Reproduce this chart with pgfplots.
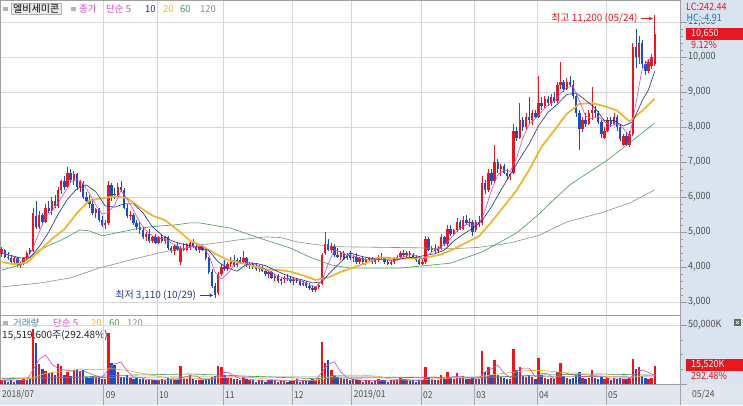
\documentclass[border=0pt]{standalone}
\usepackage{fontspec}
\setmainfont{Noto Sans CJK KR}
\newfontfamily\ui[FakeStretch=0.9]{Noto Sans CJK KR}
\usepackage{pgfplots}
\usepackage{pgfplotstable}
\pgfplotsset{compat=1.18}
\definecolor{cRed}{HTML}{E8161E}
\definecolor{cBlue}{HTML}{1C4DC6}
\definecolor{cMag}{HTML}{CF4AC4}
\definecolor{cNavy}{HTML}{1F2B8E}
\definecolor{cYel}{HTML}{F0B429}
\definecolor{cGrn}{HTML}{3E9B57}
\definecolor{cGry}{HTML}{8E8E8E}
\definecolor{cTeal}{HTML}{4E8C9A}
\definecolor{cLow}{HTML}{283C9C}
\definecolor{panel}{HTML}{DAE4F1}
\definecolor{strip}{HTML}{E2E7EE}
\definecolor{gridc}{HTML}{D6D6D6}
\definecolor{txtg}{HTML}{505050}

\pgfplotstableread{
i o h l c v
0 4380 4560 4300 4520 3
1 4500 4520 4250 4300 3
2 4300 4420 4200 4250 2
3 4250 4350 4100 4150 3
4 4150 4300 4080 4250 2
5 4250 4280 4000 4050 3
6 4050 4150 3960 4100 3
7 4100 4300 4050 4250 4
8 4250 4450 4200 4400 3
9 4480 4550 4380 4420 4
10 4450 5700 4430 5550 47
11 5450 5900 5100 5150 35
12 5150 5600 5100 5500 17
13 5500 5550 5200 5300 13
14 5300 5800 5250 5700 11
15 5700 5900 5550 5600 9
16 5600 6000 5500 5900 10
17 5900 6050 5700 5750 8
18 5750 6300 5700 6200 17
19 6200 6500 6100 6450 15
20 6450 6600 6200 6300 8
21 6300 6850 6250 6700 10
22 6700 6800 6400 6500 7
23 6500 6750 6350 6650 12
24 6650 6700 6200 6300 13
25 6300 6500 6150 6450 11
26 6400 6450 5950 6000 12
27 6000 6150 5800 5900 6
28 5900 6050 5700 5800 5
29 5800 5900 5500 5550 7
30 5550 5700 5400 5650 5
31 5650 5700 5300 5350 6
32 5350 5450 5150 5200 4
33 5200 5350 5100 5250 4
34 5250 6450 5200 6350 43
35 6350 6400 5900 6000 18
36 6100 6250 5950 6050 16
37 6050 6400 6000 6300 10
38 6300 6450 6150 6200 6
39 6200 6250 5650 5700 6
40 5700 5800 5400 5450 8
41 5450 5600 5350 5500 5
42 5500 5550 5200 5250 4
43 5250 5350 5050 5150 5
44 5150 5300 4950 5050 4
45 5050 5150 4800 4850 4
46 4850 5000 4750 4950 3
47 4950 5100 4700 4750 4
48 4750 4900 4700 4850 3
49 4850 4950 4650 4700 3
50 4700 4900 4650 4850 3
51 4850 4950 4700 4750 4
52 4750 4900 4650 4850 3
53 4850 4900 4500 4550 5
54 4550 4600 4400 4450 4
55 4450 4650 4350 4600 3
56 4600 4700 4450 4500 3
57 4150 4600 4050 4550 15
58 4550 4700 4450 4500 4
59 4500 4700 4450 4650 4
60 4550 4750 4500 4700 8
61 4700 4800 4550 4600 4
62 4600 4700 4450 4500 3
63 4500 4650 4400 4600 3
64 4600 4650 4450 4500 3
65 4500 4550 4200 4250 4
66 4250 4300 3800 3850 5
67 3850 3950 3400 3450 6
68 3450 3550 3110 3200 7
69 3250 3850 3200 3800 15
70 3800 4100 3750 4000 14
71 4000 4200 3900 3950 8
72 3950 4150 3900 4100 5
73 4100 4300 4000 4200 5
74 4200 4350 4000 4050 4
75 4050 4250 4000 4200 4
76 4200 4300 4100 4150 3
77 4150 4450 4100 4250 6
78 4250 4300 4000 4050 4
79 4050 4150 3950 4100 3
80 4100 4150 3950 4000 3
81 4000 4100 3900 3950 2
82 3950 4050 3850 4000 3
83 4000 4050 3850 3900 3
84 3900 3950 3750 3800 2
85 3800 3900 3700 3850 3
86 3850 3900 3650 3700 4
87 3700 3800 3600 3750 3
88 3750 3800 3550 3600 2
89 3600 3700 3500 3650 3
90 3650 3750 3550 3700 3
91 3700 3800 3600 3650 2
92 3650 3750 3550 3600 3
93 3600 3700 3500 3650 3
94 3650 3700 3550 3600 4
95 3600 3650 3450 3500 2
96 3500 3600 3450 3550 3
97 3550 3600 3400 3450 3
98 3450 3550 3350 3400 3
99 3400 3450 3280 3350 4
100 3350 3450 3300 3420 3
101 3420 3550 3380 3500 5
102 3520 4400 3500 4350 36
103 4400 5000 4350 4650 18
104 4650 4800 4450 4500 20
105 4500 4700 4400 4600 12
106 4600 4650 4300 4350 8
107 4350 4550 4250 4300 6
108 4300 4450 4200 4400 5
109 4400 4450 4200 4250 4
110 4250 4400 4200 4350 4
111 4350 4450 4200 4250 3
112 4250 4350 4150 4300 4
113 4300 4400 4100 4150 3
114 4150 4300 4100 4250 3
115 4250 4300 4100 4150 2
116 4150 4250 4050 4200 3
117 4200 4300 4150 4250 3
118 4250 4300 4100 4150 2
119 4150 4250 4100 4200 3
120 4200 4350 4150 4300 4
121 4300 4400 4200 4250 3
122 4250 4300 4100 4150 3
123 4150 4200 4050 4100 2
124 4100 4200 4050 4150 3
125 4150 4300 4100 4250 3
126 4250 4350 4200 4300 4
127 4300 4450 4250 4400 5
128 4400 4500 4300 4350 4
129 4350 4450 4250 4400 3
130 4400 4450 4300 4350 3
131 4350 4400 4250 4300 3
132 4300 4350 4150 4200 2
133 4200 4250 4050 4100 3
134 4100 4200 4050 4150 3
135 4150 4900 4100 4800 14
136 4800 4850 4450 4500 6
137 4500 4600 4400 4550 4
138 4550 4650 4400 4450 3
139 4450 4600 4400 4550 3
140 4550 4950 4500 4850 8
141 4850 4900 4600 4650 4
142 4650 5200 4600 5100 10
143 5100 5200 4900 4950 5
144 4950 5100 4900 5050 4
145 5050 5400 5000 5300 9
146 5300 5350 5050 5100 5
147 5100 5450 5050 5350 7
148 5350 5500 5200 5250 4
149 5250 5400 5150 5300 4
150 5300 5350 4900 5000 6
151 5050 5350 5000 5300 4
152 5300 5450 5150 5200 4
153 5250 6600 5200 6400 28
154 6400 6500 6100 6200 10
155 6200 6800 6150 6700 14
156 6700 6800 6350 6450 8
157 6450 7500 6400 7000 20
158 7000 7100 6700 6800 8
159 6800 6950 6600 6900 6
160 6900 6950 6650 6700 5
161 6700 6800 6500 6600 4
162 6600 6700 6500 6650 4
163 6700 8100 6650 7900 30
164 7900 8000 7600 7700 12
165 7700 8700 7650 8200 14
166 8200 8300 7900 8000 7
167 8000 8400 7950 8300 6
168 8300 8850 8100 8200 8
169 8200 8500 8050 8400 6
170 8400 8500 8250 8300 4
171 8300 9450 8250 8700 22
172 8700 8850 8500 8600 8
173 8600 8900 8550 8800 5
174 8800 8900 8600 8700 4
175 8700 8950 8600 8850 5
176 8850 9000 8700 8750 4
177 8750 9300 8700 9200 10
178 9200 9850 9100 9300 18
179 9300 9350 9000 9100 7
180 9100 9400 9050 9300 5
181 9300 9450 9150 9200 4
182 9200 9350 8800 8900 5
183 8900 8950 8300 8400 8
184 8400 8500 7350 7950 10
185 7950 8300 7850 8200 5
186 8200 8400 8000 8100 4
187 8100 8500 8050 8400 5
188 8400 9150 8200 8500 12
189 8500 8600 8300 8400 5
190 8400 8450 8100 8150 4
191 8150 8200 7700 7800 6
192 7700 8000 7650 7900 4
193 7900 8300 7850 8200 5
194 8200 8300 8000 8100 3
195 8100 8400 8050 8300 5
196 8300 8350 7900 8000 4
197 8000 8100 7600 7650 5
198 7500 7800 7450 7750 4
199 7750 7850 7450 7500 4
200 7500 7900 7430 7800 5
201 7800 10400 7750 10300 21
202 10300 10800 9700 10000 13
203 10000 10600 9800 10400 14
204 10400 10500 9700 9800 7
205 9800 9900 9500 9600 5
206 9600 9950 9550 9850 4
207 9750 10100 9650 10000 5
208 9800 11200 9750 10650 15.52
}\stock

\pgfplotsset{
  upc/.style={restrict expr to domain={\thisrow{c}-\thisrow{o}}{0:1000000}},
  dnc/.style={restrict expr to domain={\thisrow{c}-\thisrow{o}}{-1000000:-1}},
  wick/.style={draw=none, mark=none, forget plot, error bars/.cd, y dir=both, y explicit, error mark=none, error bar style={line width=0.75pt, draw=#1}},
  body/.style={draw=none, mark=none, forget plot, error bars/.cd, y dir=both, y explicit, error mark=none, error bar style={line width=2.4pt, draw=#1}},
  panelaxis/.style={scale only axis, width=680pt, xmin=-0.51, xmax=216.05,
    axis line style={draw=gray!75},
    scaled y ticks=false, scaled x ticks=false,
    xtick={32.5,49.5,70.5,92.5,111.5,133.5,150.5,170.5,192.5}, xticklabels={}, xtick style={draw=none},
    ytick pos=right, yticklabel pos=right, tick align=outside,
    major tick length=7pt, minor tick length=3pt,
    ytick style={draw=gray!80, line width=0.5pt},
    yticklabel style={font=\ui\fontsize{10}{10}\selectfont, text=txtg, inner sep=1pt},
    xmajorgrids, ymajorgrids, grid style={draw=gridc, line width=0.5pt},
    clip mode=individual},
}

\begin{document}
\begin{tikzpicture}
\useasboundingbox (0pt,0pt) rectangle (743pt,405pt);
\fill[white] (0pt,0pt) rectangle (743pt,405pt);
\fill[panel] (680pt,21pt) rectangle (743pt,405pt);
\fill[strip] (0pt,0pt) rectangle (743pt,21pt);
% date strip
\foreach \xx in {103.7,157.0,223.0,292.1,351.7,420.8,474.2,537.0,606.1,680.0}
  \draw[gray!70, line width=0.5pt] (\xx pt,0pt) -- (\xx pt,21pt);
\foreach \xx/\lab in {2/2018\slash 07,105.7/09,159/10,225/11,294/12,353.7/2019\slash 01,422.8/02,476.2/03,539/04,608/05,692/05\slash 24}
  \node[anchor=west, inner sep=0pt, text=txtg, font=\ui\fontsize{9.5}{10}\selectfont] at (\xx pt,10pt) {\lab};
% volume legend (under the bars)
\fill[gray!60] (3pt,80pt) rectangle ++(4.5pt,4.5pt);
\node[anchor=west, inner sep=0pt, text=cTeal, font=\fontsize{9.5}{10}\selectfont] at (13pt,82pt) {거래량};
\node[anchor=west, inner sep=0pt, text=cMag, font=\fontsize{9.5}{10}\selectfont] at (53pt,82pt) {단순 5};
\node[anchor=west, inner sep=0pt, text=cYel, font=\fontsize{9.5}{10}\selectfont] at (91pt,82pt) {20};
\node[anchor=west, inner sep=0pt, text=cGrn, font=\fontsize{9.5}{10}\selectfont] at (109pt,82pt) {60};
\node[anchor=west, inner sep=0pt, text=cGry, font=\fontsize{9.5}{10}\selectfont] at (127pt,82pt) {120};
\node[anchor=west, inner sep=0pt, text=black!85, font=\fontsize{10}{10}\selectfont] at (2pt,70pt) {15,519,600주(292.48\%)};

% ---------------- volume panel ----------------
\begin{axis}[panelaxis, at={(0pt,21pt)}, anchor=south west, height=69pt,
  ymin=0, ymax=58.47, ytick={0,50}, yticklabels={{},{50,000K}}, minor y tick num=3]
\addplot[upc, ycomb, draw=cRed, line width=2.4pt, mark=none, forget plot] table[x=i, y=v] {\stock};
\addplot[dnc, ycomb, draw=cBlue, line width=2.4pt, mark=none, forget plot] table[x=i, y=v] {\stock};
\addplot[cGry, line width=0.6pt, mark=none] coordinates {(0,5)(60,6)(100,6)(140,5.8)(180,6.2)(208,6.8)};
\addplot[cGrn, line width=0.6pt, mark=none] coordinates {(0,4.5)(20,5.5)(40,7.5)(60,8.5)(80,6.5)(100,4.5)(110,5)(130,5.5)(150,5)(170,7.5)(190,8.5)(208,7.5)};
\addplot[cYel, line width=0.7pt, mark=none] coordinates {(0,3.5)(10,5)(14,9)(20,11)(25,12.5)(30,12)(35,13)(40,11.5)(45,9)(50,6.5)(55,4.5)(60,5)(65,4.5)(70,5.5)(75,6)(80,5.5)(85,4)(90,3)(95,3)(100,3)(103,5)(106,7)(110,7.5)(115,7.5)(120,6.5)(124,4)(130,3.2)(135,3.8)(140,4.5)(145,5.5)(150,5.5)(153,6.5)(158,8.5)(163,10)(168,11.5)(172,11.5)(176,10.5)(180,9.5)(185,8.5)(190,7)(195,6)(200,5.5)(203,6.5)(208,7.5)};
\addplot[cMag, line width=0.6pt, mark=none] coordinates {(0,3)(4,2.6)(8,3)(10,12)(12,21)(14,24.6)(16,17)(18,13)(20,12)(22,11)(24,10)(26,11)(28,9)(30,7)(32,5.6)(34,12)(36,17)(38,18.6)(40,11)(42,6)(44,5.6)(46,4)(48,3.6)(50,3.2)(52,3.4)(54,3.8)(56,3.6)(58,5.8)(60,7)(62,6.8)(64,4)(66,3.6)(68,5)(70,9.4)(72,10)(74,7.2)(76,4.4)(78,4.4)(80,3.6)(84,2.6)(88,2.8)(92,2.6)(96,3)(100,3.2)(102,10)(104,16.8)(106,18.8)(108,10.2)(110,5.4)(112,4)(116,2.8)(120,3)(124,2.6)(128,4)(132,3)(134,3)(136,5.6)(138,5.8)(140,4.8)(142,5.6)(144,6.2)(146,6.6)(148,5.8)(150,5.2)(152,4.8)(154,10.4)(156,12.8)(158,16)(160,9.4)(162,5.4)(164,11.2)(166,13.4)(168,13.4)(170,6.2)(172,9.2)(174,8.6)(176,4.4)(178,7.6)(180,8.8)(182,7.8)(184,6.4)(186,6.4)(188,7.2)(190,6)(192,6)(194,4.4)(196,4.2)(198,4.2)(200,4.4)(202,9.4)(204,12)(206,9.8)(208,7.3)};
\end{axis}

% ---------------- price panel ----------------
\begin{axis}[panelaxis, at={(0pt,90pt)}, anchor=south west, height=315pt,
  ymin=2628.6, ymax=11628.6,
  ytick={3000,4000,...,11000},
  yticklabels={{3,000},{4,000},{5,000},{6,000},{7,000},{8,000},{9,000},{10,000},{11,000}},
  minor y tick num=4]
% candles
\addplot[upc, wick=cRed] table[x=i, y expr={(\thisrow{h}+\thisrow{l})/2}, y error expr={(\thisrow{h}-\thisrow{l})/2}] {\stock};
\addplot[dnc, wick=cBlue] table[x=i, y expr={(\thisrow{h}+\thisrow{l})/2}, y error expr={(\thisrow{h}-\thisrow{l})/2}] {\stock};
\addplot[upc, body=cRed] table[x=i, y expr={(\thisrow{o}+\thisrow{c})/2}, y error expr={abs(\thisrow{c}-\thisrow{o})/2}] {\stock};
\addplot[dnc, body=cBlue] table[x=i, y expr={(\thisrow{o}+\thisrow{c})/2}, y error expr={abs(\thisrow{c}-\thisrow{o})/2}] {\stock};
% moving averages
\addplot[cGry, line width=0.6pt, mark=none] coordinates {(0,3430)(12,3540)(22,3690)(31,3970)(41,4200)(50,4400)(55,4490)(64,4630)(75,4770)(84,4860)(89,4840)(94,4720)(100,4640)(107,4580)(114,4570)(132,4550)(143,4520)(152,4560)(162,4690)(171,4900)(180,5290)(191,5550)(200,5830)(208,6200)};
\addplot[cGrn, line width=0.6pt, mark=none] coordinates {(0,3910)(6,4060)(12,4490)(19,4770)(25,5060)(28,5030)(32,4890)(38,5000)(44,5110)(50,5170)(55,5200)(60,5260)(63,5260)(73,5110)(82,4830)(92,4540)(98,4290)(105,4060)(111,3970)(127,3970)(143,4110)(153,4430)(164,4970)(171,5500)(175,5850)(181,6350)(193,7060)(200,7550)(208,8110)};
\addplot[cYel, line width=1.7pt, mark=none] coordinates {(0,4140)(4,4080)(8,4120)(12,4450)(16,4800)(20,5079)(24,5539)(28,5906)(32,5963)(36,6020)(40,5968)(44,5708)(48,5470)(52,5340)(56,5063)(60,4750)(64,4600)(68,4380)(72,4200)(76,4120)(80,4030)(84,3930)(88,3920)(92,3870)(96,3760)(100,3630)(104,3700)(108,3859)(112,3986)(116,4109)(120,4273)(124,4255)(128,4238)(132,4243)(136,4283)(140,4358)(144,4513)(148,4698)(152,4875)(156,5285)(160,5735)(164,6190)(168,6775)(172,7435)(176,7903)(180,8378)(184,8658)(188,8683)(192,8595)(196,8470)(200,8160)(204,8463)(208,8808)};
\addplot[cNavy, line width=0.6pt, mark=none] coordinates {(0,4400)(3,4330)(6,4260)(9,4269)(12,4582)(15,4997)(18,5507)(21,5940)(24,6235)(27,6345)(30,6150)(33,5745)(36,5710)(39,5805)(42,5805)(45,5550)(48,5150)(51,4915)(54,4755)(57,4665)(60,4610)(63,4565)(66,4470)(69,4145)(72,3970)(75,3880)(78,4075)(81,4105)(84,4040)(87,3910)(90,3790)(93,3695)(96,3625)(99,3545)(102,3577)(105,3877)(108,4142)(111,4400)(114,4320)(117,4255)(120,4220)(123,4200)(126,4210)(129,4265)(132,4280)(135,4335)(138,4380)(141,4480)(144,4745)(147,4935)(150,5105)(153,5325)(156,5715)(159,6195)(162,6640)(165,7090)(168,7515)(171,8035)(174,8420)(177,8650)(180,8930)(183,8970)(186,8765)(189,8535)(192,8180)(195,8185)(198,8025)(201,8150)(204,8750)(206,9065)(208,9590)};
\addplot[cMag, line width=0.6pt, mark=none] coordinates {(0,4420)(2,4340)(4,4294)(6,4160)(8,4210)(10,4544)(12,5004)(14,5440)(16,5600)(18,5830)(20,6120)(22,6430)(24,6490)(26,6380)(28,6090)(30,5780)(32,5510)(34,5560)(36,5770)(38,6180)(40,5940)(42,5620)(44,5280)(46,5050)(48,4890)(50,4820)(52,4800)(54,4690)(56,4590)(58,4520)(60,4580)(62,4590)(64,4580)(66,4340)(68,3850)(70,3660)(72,3810)(74,4060)(76,4140)(78,4140)(80,4110)(82,4020)(84,3930)(86,3850)(88,3740)(90,3680)(92,3640)(94,3640)(96,3580)(98,3500)(100,3434)(102,3604)(104,4084)(106,4490)(108,4430)(110,4330)(112,4310)(114,4260)(116,4210)(118,4200)(120,4220)(122,4210)(124,4190)(126,4190)(128,4290)(130,4360)(132,4320)(134,4220)(136,4350)(138,4490)(140,4580)(142,4720)(144,4920)(146,5100)(148,5210)(150,5200)(152,5210)(154,5620)(156,6190)(158,6630)(160,6770)(162,6730)(164,7110)(166,7690)(168,8080)(170,8240)(172,8440)(174,8620)(176,8740)(178,8960)(180,9130)(182,9160)(184,8750)(186,8310)(188,8230)(190,8310)(192,8150)(194,8030)(196,8100)(198,7960)(200,7740)(201,8200)(202,8670)(204,9660)(206,9930)(208,9980)};
% annotations
\node[anchor=east, inner sep=0pt, text=cRed, font=\fontsize{10}{10}\selectfont] at (axis cs:202.6,11100) {최고 11,200 (05/24)};
\draw[cRed, line width=0.8pt, -stealth] (axis cs:203.6,11100) -- (axis cs:207.4,11100);
\node[anchor=east, inner sep=0pt, text=cLow, font=\fontsize{10}{10}\selectfont] at (axis cs:62.0,3190) {최저 3,110 (10/29)};
\draw[cLow, line width=0.8pt, -stealth] (axis cs:63.3,3190) -- (axis cs:67.4,3190);
\end{axis}

% price legend
\fill[gray!60] (3pt,393.5pt) rectangle ++(4.5pt,4.5pt);
\node[anchor=west, draw=gray!60, fill=gray!15, inner xsep=2pt, inner ysep=1pt, font=\fontsize{10}{10}\selectfont] at (11pt,396pt) {엘비세미콘};
\fill[gray!60] (71pt,393.5pt) rectangle ++(4.5pt,4.5pt);
\node[anchor=west, inner sep=0pt, text=cMag, font=\fontsize{9.5}{10}\selectfont] at (79pt,396pt) {종가};
\node[anchor=west, inner sep=0pt, text=cMag, font=\fontsize{9.5}{10}\selectfont] at (106pt,396pt) {단순 5};
\node[anchor=west, inner sep=0pt, text=cNavy, font=\fontsize{9.5}{10}\selectfont] at (145pt,396pt) {10};
\node[anchor=west, inner sep=0pt, text=cYel, font=\fontsize{9.5}{10}\selectfont] at (163pt,396pt) {20};
\node[anchor=west, inner sep=0pt, text=cGrn, font=\fontsize{9.5}{10}\selectfont] at (180pt,396pt) {60};
\node[anchor=west, inner sep=0pt, text=cGry, font=\fontsize{9.5}{10}\selectfont] at (200pt,396pt) {120};

% right panel overlays
\node[anchor=west, inner sep=0pt, text=cRed, font=\ui\fontsize{10}{10}\selectfont] at (686pt,398pt) {LC:242.44};
\node[anchor=west, inner sep=0.8pt, fill=panel, text=cBlue!80!cyan, font=\ui\fontsize{10}{10}\selectfont] at (685.5pt,387.5pt) {HC:-4.91};
\fill[cRed] (686pt,365pt) rectangle (743pt,377pt);
\node[anchor=west, inner sep=0pt, text=white, font=\ui\fontsize{10}{10}\selectfont] at (691pt,371pt) {10,650};
\node[anchor=west, inner sep=0pt, text=cRed, font=\ui\fontsize{10}{10}\selectfont] at (691pt,360pt) {9.12\%};
\fill[cRed] (686pt,34pt) rectangle (743pt,46pt);
\node[anchor=west, inner sep=0pt, text=white, font=\ui\fontsize{10}{10}\selectfont] at (691pt,40pt) {15,520K};
\node[anchor=west, inner sep=0pt, text=cRed, font=\ui\fontsize{10}{10}\selectfont] at (691pt,29pt) {292.48\%};
\fill[gray!80!black] (734pt,79pt) rectangle (741pt,86pt);
\draw[white, line width=0.5pt] (735.8pt,80.8pt) -- (739.2pt,84.2pt) (735.8pt,84.2pt) -- (739.2pt,80.8pt);
\end{tikzpicture}
\end{document}
